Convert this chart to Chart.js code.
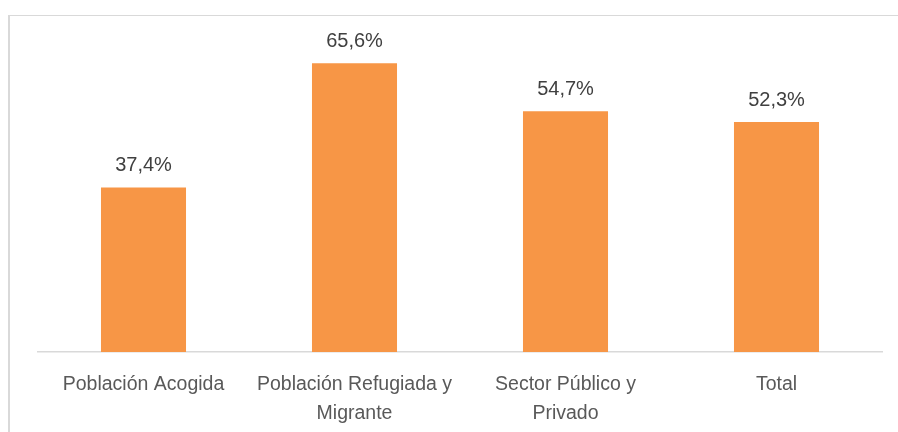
<!DOCTYPE html>
<html lang="es">
<head>
<meta charset="UTF-8" />
<title>Porcentaje por grupo</title>
<script src="https://cdn.jsdelivr.net/npm/chart.js@4.4.0/dist/chart.umd.min.js"></script>
<style>
  body { margin: 0; background: #fff; overflow: hidden; }
  #wrap { position: relative; width: 898px; height: 432px; }
  #frame { position: absolute; left: 8px; top: 15px; width: 1000px; height: 500px;
           border-left: 2px solid #d9d9d9; border-top: 1px solid #d9d9d9; }
  canvas { position: absolute; left: 0; top: 0; }
</style>
</head>
<body>
<div id="wrap">
  <div id="frame"></div>
  <canvas id="myChart" width="898" height="432"></canvas>
</div>
<script>
  const categories = [
    'Población Acogida',
    ['Población Refugiada y', 'Migrante'],
    ['Sector Público y', 'Privado'],
    'Total'
  ];
  const values = [37.4, 65.6, 54.7, 52.3];

  const fontFamily = '"Liberation Sans", Arial, sans-serif';

  // draws the "37,4%" labels above each bar
  const valueLabels = {
    id: 'valueLabels',
    afterDatasetsDraw(chart) {
      const ctx = chart.ctx;
      const meta = chart.getDatasetMeta(0);
      ctx.save();
      ctx.font = '20px ' + fontFamily;
      ctx.fillStyle = '#404040';
      ctx.textAlign = 'center';
      ctx.textBaseline = 'alphabetic';
      meta.data.forEach((bar, i) => {
        const txt = values[i].toFixed(1).replace('.', ',') + '%';
        ctx.fillText(txt, bar.x, bar.y - 16);
      });
      ctx.restore();
    }
  };

  const ctx = document.getElementById('myChart').getContext('2d');
  const myChart = new Chart(ctx, {
    type: 'bar',
    data: {
      labels: categories,
      datasets: [{
        data: values,
        backgroundColor: '#F79646',
        borderWidth: 0,
        barPercentage: 0.403,
        categoryPercentage: 1
      }]
    },
    options: {
      responsive: false,
      animation: false,
      layout: { padding: { top: 44, left: 38, right: 16, bottom: 0 } },
      plugins: { legend: { display: false }, tooltip: { enabled: false } },
      scales: {
        x: {
          grid: { display: false },
          border: { color: '#d9d9d9', width: 1.5 },
          ticks: {
            color: '#595959',
            padding: 10,
            maxRotation: 0,
            autoSkip: false,
            font: { family: fontFamily, size: 19.5, lineHeight: 1.5 }
          },
          afterFit(scale) { scale.height = 80; }
        },
        y: {
          display: false,
          min: 0,
          max: 70
        }
      }
    },
    plugins: [valueLabels]
  });
</script>
</body>
</html>
